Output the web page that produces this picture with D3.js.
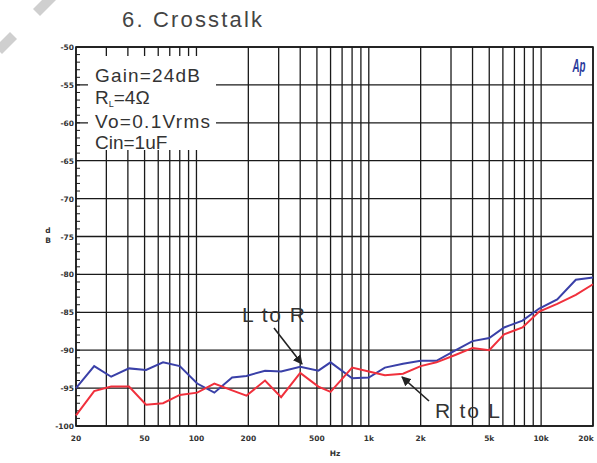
<!DOCTYPE html>
<html><head><meta charset="utf-8">
<script src="https://cdn.jsdelivr.net/npm/d3@7"></script>
<style>html,body{margin:0;padding:0;background:#fff;}svg{display:block;}</style>
</head><body>
<svg id="c" width="597" height="463"></svg>
<script>
// ---- data ----
const freqs = [20,25.5,32,40.6,51,64,80,101,127,161,195,250,310,400,510,600,800,1000,1240,1580,2000,2470,3200,4000,5000,6100,7800,9750,12400,15900,20000];
const lToR = [-95.0,-92.1,-93.5,-92.4,-92.6,-91.6,-92.1,-94.4,-95.6,-93.6,-93.4,-92.7,-92.8,-92.2,-92.7,-91.6,-93.7,-93.6,-92.3,-91.8,-91.4,-91.4,-90.0,-88.8,-88.4,-87.0,-86.1,-84.5,-83.3,-80.7,-80.4];
const rToL = [-98.6,-95.4,-94.8,-94.8,-97.2,-97.0,-95.9,-95.6,-94.4,-95.3,-96.0,-94.0,-96.2,-93.0,-94.8,-95.5,-92.3,-92.8,-93.3,-93.1,-92.1,-91.6,-90.6,-89.7,-90.0,-87.9,-87.0,-84.9,-83.9,-82.7,-81.3];
const yTicks = [-100,-95,-90,-85,-80,-75,-70,-65,-60,-55,-50];
const xTickVals = [20,50,100,200,500,1000,2000,5000,10000,20000];
const xTickLabels = ["20","50","100","200","500","1k","2k","5k","10k","20k"];
const infoLines = ["Gain=24dB","R_L=4\u03A9","Vo=0.1Vrms","Cin=1uF"];

const svg = d3.select("#c");
const L=76, R=593, T=47, B=426;
const x = d3.scaleLog().domain([20,20000]).range([L,R]);
const y = d3.scaleLinear().domain([-100,-50]).range([B,T]);

// watermark corner shapes
svg.append("polygon").attr("points","51,-9 58,-2 40,16 33,9").attr("fill","#cfcfcf");
svg.append("polygon").attr("points","10,32 17,39 2,54 -5,47").attr("fill","#cfcfcf");

// title
svg.append("text").attr("x",122).attr("y",27).attr("font-family","Liberation Sans, Arial, sans-serif")
  .attr("font-size",22).attr("fill","#444").attr("textLength",140).attr("lengthAdjust","spacing").text("6. Crosstalk");

// grid
const vGrid = [];
[10,100,1000,10000].forEach(d=>{for(let m=1;m<=9;m++){const f=d*m; if(f>=20&&f<=20000) vGrid.push(f);}});
const grid = svg.append("g").attr("stroke","#1a1a1a").attr("stroke-width",1.3);
grid.selectAll("line.v").data(vGrid).join("line").attr("class","v")
  .attr("x1",d=>x(d)).attr("x2",d=>x(d)).attr("y1",T).attr("y2",B);
grid.selectAll("line.h").data(yTicks).join("line").attr("class","h")
  .attr("x1",L).attr("x2",R).attr("y1",d=>y(d)).attr("y2",d=>y(d));

// minor y ticks
const minor = d3.range(-100,-49,1);
svg.append("g").attr("stroke","#1a1a1a").attr("stroke-width",1)
  .selectAll("line").data(minor).join("line")
  .attr("x1",L).attr("x2",L+4).attr("y1",d=>y(d)).attr("y2",d=>y(d));

// info box (white background over grid)
svg.append("rect").attr("x",88).attr("y",56).attr("width",128).attr("height",94).attr("fill","#fff");
const info = svg.append("g").attr("font-family","Liberation Sans, Arial, sans-serif").attr("font-size",19).attr("fill","#333");
info.append("text").attr("x",95).attr("y",82).attr("textLength",105).attr("lengthAdjust","spacing").text(infoLines[0]);
const rl = info.append("text").attr("x",95).attr("y",104);
rl.append("tspan").text("R");
rl.append("tspan").attr("font-size",9).attr("dy",3).text("L");
rl.append("tspan").attr("dy",-3).text("=4\u03A9");
info.append("text").attr("x",95).attr("y",128).attr("textLength",115).attr("lengthAdjust","spacing").text(infoLines[2]);
info.append("text").attr("x",95).attr("y",149).text(infoLines[3]);

// frame
svg.append("rect").attr("x",L).attr("y",T).attr("width",R-L).attr("height",B-T)
  .attr("fill","none").attr("stroke","#1a1a1a").attr("stroke-width",1.6);

// axes labels
const axf = svg.append("g").attr("font-family","DejaVu Sans, sans-serif").attr("font-size",7.5).attr("font-weight","bold").attr("fill","#333");
axf.selectAll("text.y").data(yTicks).join("text").attr("class","y")
  .attr("x",L-2).attr("y",d=>y(d)+3).attr("text-anchor","end").text(d=>d);
axf.selectAll("text.x").data(xTickVals).join("text").attr("class","x")
  .attr("x",d=>Math.min(x(d),586)).attr("y",441).attr("text-anchor","middle").text((d,i)=>xTickLabels[i]);
axf.append("text").attr("x",335).attr("y",456).attr("text-anchor","middle").text("Hz");
axf.append("text").attr("x",48).attr("y",233).attr("text-anchor","middle").text("d");
axf.append("text").attr("x",48).attr("y",243).attr("text-anchor","middle").text("B");

// Ap logo
svg.append("text").attr("x",579).attr("y",72).attr("text-anchor","middle")
  .attr("font-family","Liberation Sans, Arial, sans-serif").attr("font-size",18).attr("font-weight","bold")
  .attr("font-style","italic").attr("fill","#2b3a9c").attr("textLength",13).attr("lengthAdjust","spacingAndGlyphs").text("Ap");

// series
const line = d3.line().x((d,i)=>x(freqs[i])).y(d=>y(d));
svg.append("path").datum(lToR).attr("d",line).attr("fill","none").attr("stroke","#3a40a8").attr("stroke-width",2);
svg.append("path").datum(rToL).attr("d",line).attr("fill","none").attr("stroke","#f0303c").attr("stroke-width",2);

// annotations
const defs = svg.append("defs");
defs.append("marker").attr("id","ah").attr("viewBox","0 0 10 10").attr("refX",9).attr("refY",5)
  .attr("markerWidth",6).attr("markerHeight",6).attr("orient","auto")
  .append("path").attr("d","M0,0 L10,5 L0,10 z").attr("fill","#222");
const ann = svg.append("g").attr("font-family","Liberation Sans, Arial, sans-serif").attr("font-size",21).attr("fill","#333");
ann.append("text").attr("x",242).attr("y",322).attr("textLength",63).attr("lengthAdjust","spacing").text("L to R");
svg.append("line").attr("x1",274).attr("y1",328).attr("x2",302).attr("y2",364)
  .attr("stroke","#222").attr("stroke-width",1.6).attr("marker-end","url(#ah)");
ann.append("text").attr("x",435).attr("y",418).attr("textLength",65).attr("lengthAdjust","spacing").text("R to L");
svg.append("line").attr("x1",429).attr("y1",401).attr("x2",402).attr("y2",377)
  .attr("stroke","#222").attr("stroke-width",1.6).attr("marker-end","url(#ah)");
</script>
</body></html>
